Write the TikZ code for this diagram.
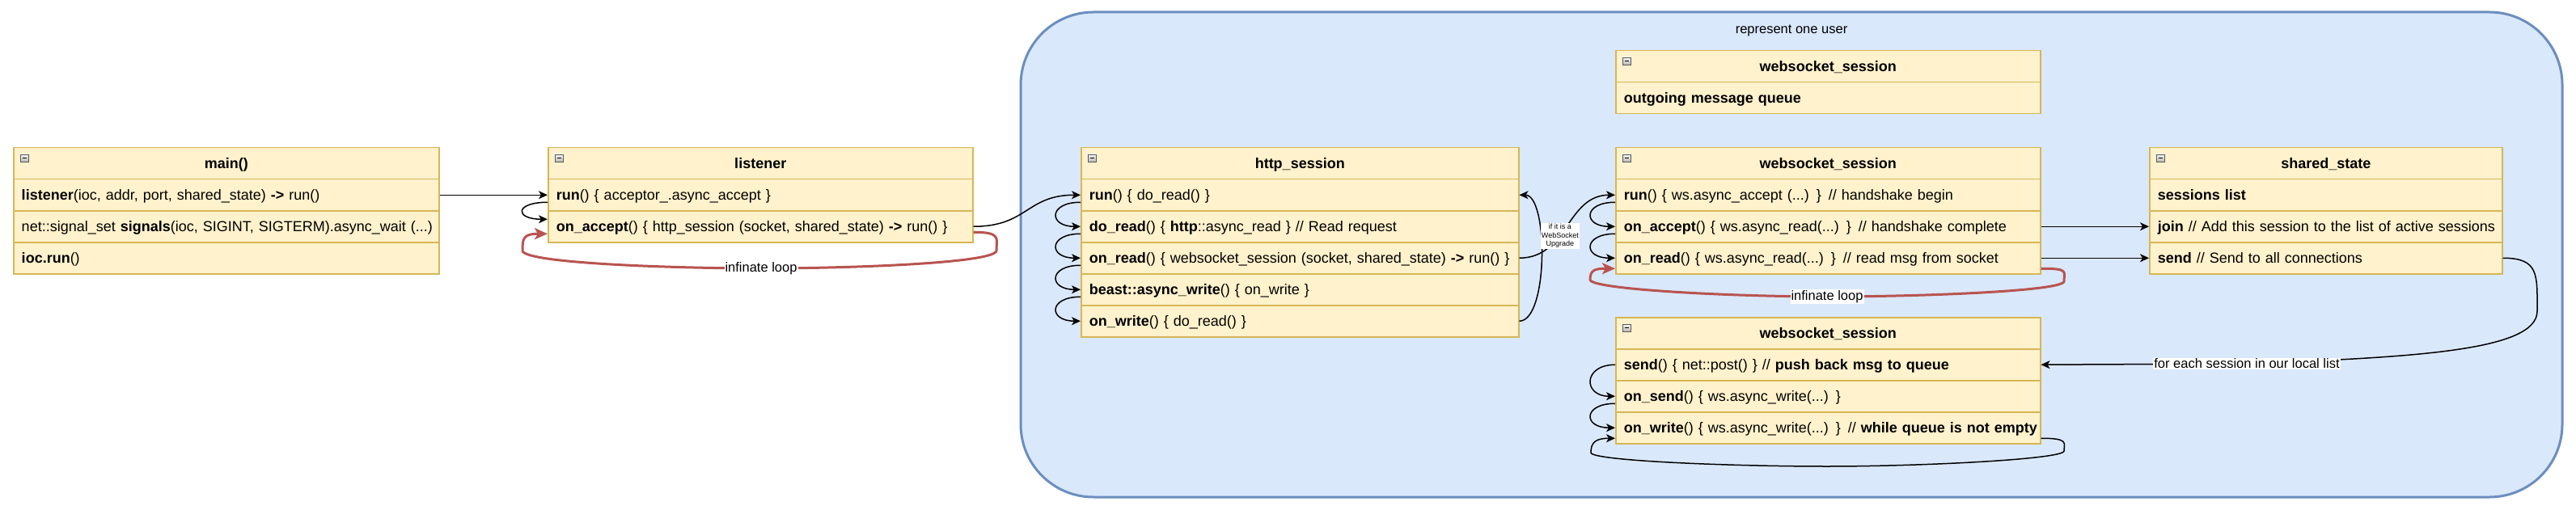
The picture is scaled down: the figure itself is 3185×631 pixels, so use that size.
\documentclass[tikz,border=0pt]{standalone}
\usepackage{fontspec}
\setmainfont{Liberation Sans}
\usetikzlibrary{arrows.meta,calc}
\definecolor{rowfill}{HTML}{FFF2CC}
\definecolor{rowline}{HTML}{D6B656}
\definecolor{grpfill}{HTML}{DAE8FC}
\definecolor{grpline}{HTML}{6C8EBF}
\definecolor{loopred}{HTML}{B85450}
\newcommand\clshead[5]{%
  \node[hdrbox, minimum width=#4pt] (#1) at (#2,#3) {#5};
  \shadedraw[line width=0.6pt, draw=gray!70!black, top color=gray!8, bottom color=gray!55]
    ($(#1.north west)+(9,9)$) rectangle ++(10,9);
  \draw[line width=1.3pt] ($(#1.north west)+(11.5,13.5)$) -- ++(5,0);
}
\tikzset{
  hdrbox/.style={draw=rowline, fill=rowfill, line width=1.5pt, anchor=north west,
    minimum height=39pt, inner sep=0pt, font=\fontsize{18}{21.6}\selectfont\bfseries,
    text height=16.3pt, text depth=3.8pt},
  rowbox/.style={draw=rowline, fill=rowfill, line width=1.5pt, anchor=north west,
    minimum height=39pt, inner xsep=10pt, inner ysep=0pt, align=left,
    font=\fontsize{18}{21.6}\selectfont, text height=16.3pt, text depth=3.8pt,
    execute at begin node={\hbox\bgroup}, execute at end node={\egroup}},
  conn/.style={line width=1.5pt, -{Stealth[length=11pt,width=10pt,inset=3pt]}},
  redloop/.style={draw=loopred, line width=3pt, -{Stealth[length=16pt,width=14pt,inset=4pt]}},
  lbl/.style={fill=white, text=black, inner sep=1pt, font=\fontsize{16.5}{19}\selectfont},
  wslbl/.style={fill=white, inner sep=1pt, align=center, font=\fontsize{9}{10.7}\selectfont},
  grp/.style={draw=grpline, fill=grpfill, line width=3pt, rounded corners=90pt},
}
\begin{document}
\begin{tikzpicture}[x=1pt,y=-1pt]
\fill[white] (0,0) rectangle (3185,631);
\useasboundingbox (0,0) rectangle (3185,631);
% group container
\draw[grp] (1262,15) rectangle (3168,615);
\node[font=\fontsize{16.5}{19}\selectfont] (grptitle) at (2215,38) {represent one user};

% main()
\clshead{mainh}{16}{182}{526}{main()}
\node[rowbox, text width=506pt] (m1) at (16,221) {\textbf{listener}(ioc, addr, port, shared\_state) \textbf{->} run()};
\node[rowbox, text width=506pt] (m2) at (16,260) {net::signal\_set \textbf{signals}(ioc, SIGINT, SIGTERM).async\_wait (...)};
\node[rowbox, text width=506pt] (m3) at (16,299) {\textbf{ioc.run}()};

% listener
\clshead{lish}{677}{182}{525}{listener}
\node[rowbox, text width=505pt] (l1) at (677,221) {\textbf{run}() \{ acceptor\_.async\_accept \}};
\node[rowbox, text width=505pt] (l2) at (677,260) {\textbf{on\_accept}() \{ http\_session (socket, shared\_state) \textbf{->} run() \}};

% http_session
\clshead{hth}{1336}{182}{541}{http\_session}
\node[rowbox, text width=521pt] (h1) at (1336,221) {\textbf{run}() \{ do\_read() \}};
\node[rowbox, text width=521pt] (h2) at (1336,260) {\textbf{do\_read}() \{ \textbf{http}::async\_read \} // Read request};
\node[rowbox, text width=521pt] (h3) at (1336,299) {\textbf{on\_read}() \{ websocket\_session (socket, shared\_state) \textbf{->} run() \}};
\node[rowbox, text width=521pt] (h4) at (1336,338) {\textbf{beast::async\_write}() \{ on\_write \}};
\node[rowbox, text width=521pt] (h5) at (1336,377) {\textbf{on\_write}() \{ do\_read() \}};

% websocket_session (queue)
\clshead{w0h}{1997}{62}{525}{websocket\_session}
\node[rowbox, text width=505pt] (w01) at (1997,101) {\textbf{outgoing message queue}};

% websocket_session (read side)
\clshead{w1h}{1997}{182}{525}{websocket\_session}
\node[rowbox, text width=505pt] (w11) at (1997,221) {\textbf{run}() \{ ws.async\_accept (...) \} // handshake begin};
\node[rowbox, text width=505pt] (w12) at (1997,260) {\textbf{on\_accept}() \{ ws.async\_read(...) \} // handshake complete};
\node[rowbox, text width=505pt] (w13) at (1997,299) {\textbf{on\_read}() \{ ws.async\_read(...) \} // read msg from socket};

% shared_state
\clshead{ssh}{2657}{182}{436}{shared\_state}
\node[rowbox, text width=416pt] (s1) at (2657,221) {\textbf{sessions list}};
\node[rowbox, text width=416pt] (s2) at (2657,260) {\textbf{join} // Add this session to the list of active sessions};
\node[rowbox, text width=416pt] (s3) at (2657,299) {\textbf{send} // Send to all connections};

% websocket_session (write side)
\clshead{w2h}{1997}{392}{525}{websocket\_session}
\node[rowbox, text width=505pt] (w21) at (1997,431) {\textbf{send}() \{ net::post() \} // \textbf{push back msg to queue}};
\node[rowbox, text width=505pt] (w22) at (1997,470) {\textbf{on\_send}() \{ ws.async\_write(...) \}};
\node[rowbox, text width=505pt] (w23) at (1997,509) {\textbf{on\_write}() \{ ws.async\_write(...) \} // \textbf{while queue is not empty}};

% ---------- connectors ----------
\draw[conn] (m1.east) -- (l1.west);
\draw[conn] ([yshift=-9pt]l1.west) .. controls +(-41,0) and +(-41,0) .. ([yshift=9pt]l2.west);
\draw[redloop] ([yshift=-7pt]l2.east) .. controls +(35,0) and +(0,-15) .. (1232,310)
  .. controls +(0,15) and +(120,0) .. (941,332) node[lbl] {infinate loop}
  .. controls +(-120,0) and +(0,15) .. (646,310)
  .. controls +(0,-15) and +(-30,0) .. ([yshift=-9pt]l2.west);
\draw[conn] (l2.east) .. controls +(67,0) and +(-67,0) .. (h1.west);

\draw[conn] ([yshift=-9pt]h1.west) .. controls +(-40,0) and +(-40,0) .. (h2.west);
\draw[conn] ([yshift=-9pt]h2.west) .. controls +(-40,0) and +(-40,0) .. (h3.west);
\draw[conn] ([yshift=-9pt]h3.west) .. controls +(-40,0) and +(-40,0) .. (h4.west);
\draw[conn] ([yshift=-9pt]h4.west) .. controls +(-40,0) and +(-40,0) .. (h5.west);
\draw[conn] (h5.east) .. controls +(36,0) and +(36,0) .. (h1.east);
\draw[conn] (h3.east) .. controls +(60,0) and +(-60,0) .. node[pos=0.4, wslbl] {if it is a\\WebSocket\\Upgrade} (w11.west);

\draw[conn] ([yshift=-9pt]w11.west) .. controls +(-40,0) and +(-40,0) .. (w12.west);
\draw[conn] ([yshift=-9pt]w12.west) .. controls +(-40,0) and +(-40,0) .. (w13.west);
\draw[conn] (w12.east) -- (s2.west);
\draw[conn] (w13.east) -- (s3.west);
\draw[redloop] ([yshift=-13pt]w13.east) .. controls +(35,0) and +(0,-12) .. (2552,348)
  .. controls +(0,12) and +(120,0) .. (2259,367) node[lbl] {infinate loop}
  .. controls +(-120,0) and +(0,12) .. (1966,346)
  .. controls +(0,-12) and +(-25,0) .. ([yshift=-13pt]w13.west);

\draw[conn] (s3.east) .. controls +(45,0) and +(0,-45) .. (3137,385)
  .. controls +(0,50) and +(200,-8) .. (2778,450) node[lbl] {for each session in our local list}
  -- (w21.east);

\draw[conn] (w21.west) .. controls +(-40,0) and +(-40,0) .. (w22.west);
\draw[conn] ([yshift=-9pt]w22.west) .. controls +(-40,0) and +(-40,0) .. (w23.west);
\draw[conn] ([yshift=-13pt]w23.east) .. controls +(35,0) and +(0,-10) .. (2552,558)
  .. controls +(0,10) and +(120,0) .. (2259,577)
  .. controls +(-120,0) and +(0,10) .. (1967,560)
  .. controls +(0,-12) and +(-25,0) .. ([yshift=-13pt]w23.west);
\end{tikzpicture}
\end{document}
